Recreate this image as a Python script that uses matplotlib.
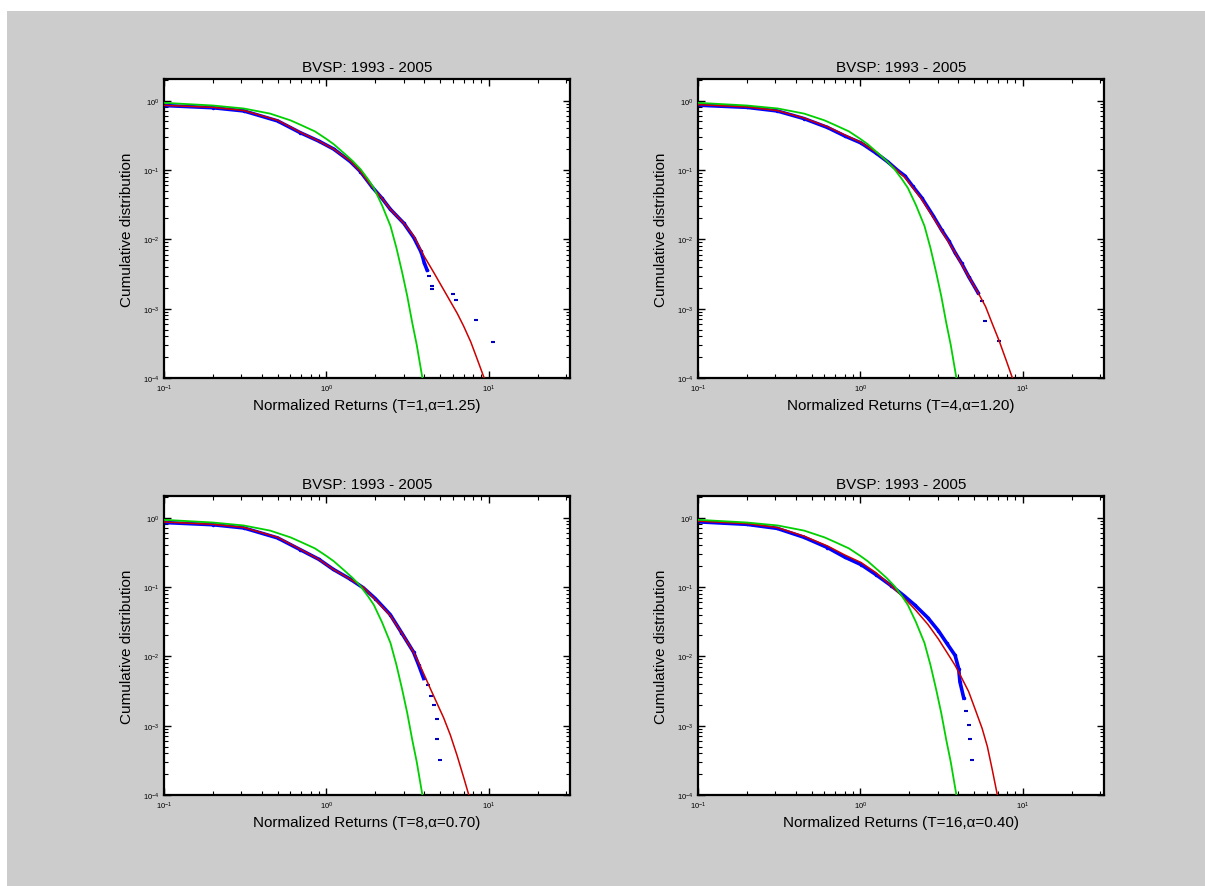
import numpy as np
import matplotlib
matplotlib.use("Agg")
from matplotlib import pyplot as plt
from matplotlib.patches import Rectangle

plt.rcParams['font.family'] = ['Liberation Sans', 'DejaVu Sans']
plt.rcParams['mathtext.default'] = 'regular'

# gaussian reference curve (same in every panel)
gauss_x = [0.1, 0.2, 0.31, 0.45, 0.6, 0.69, 0.85, 1.0, 1.11, 1.3, 1.45, 1.62, 1.8, 1.96,
           2.2, 2.48, 2.7, 2.93, 3.15, 3.38, 3.6, 3.9]
gauss_y = [0.93, 0.85, 0.77, 0.65, 0.52, 0.45, 0.36, 0.28, 0.235, 0.17, 0.135, 0.103, 0.074, 0.055,
           0.031, 0.0156, 0.0075, 0.0033, 0.0015, 6.2e-4, 3.0e-4, 1.0e-4]

# T = 1
red1_x = [0.1, 0.2, 0.31, 0.5, 0.69, 0.9, 1.11, 1.4, 1.62, 1.91, 2.2, 2.48, 3.0, 3.46, 3.98,
          4.59, 5.4, 6.4, 7.0, 7.75, 8.5, 9.36]
red1_y = [0.855, 0.80, 0.72, 0.52, 0.35, 0.26, 0.20, 0.135, 0.095, 0.057, 0.039, 0.027, 0.017,
          0.011, 0.0058, 0.0033, 0.0017, 8.5e-4, 5.6e-4, 3.3e-4, 1.85e-4, 1.0e-4]
blue1_x = [0.1, 0.2, 0.31, 0.5, 0.69, 0.9, 1.11, 1.4, 1.62, 1.91, 2.2, 2.48, 3.0, 3.46, 3.8,
           3.9, 4.0, 4.17]
blue1_y = [0.85, 0.79, 0.71, 0.51, 0.345, 0.26, 0.20, 0.133, 0.095, 0.057, 0.039, 0.027, 0.017,
           0.0105, 0.0068, 0.0058, 0.0046, 0.0036]
tail1_x = [4.3, 4.5, 4.5, 6.0, 6.3, 8.3, 10.6]
tail1_y = [0.0030, 0.0021, 0.0019, 0.0016, 0.00133, 6.8e-4, 3.3e-4]

# T = 4
red4_x = [0.1, 0.2, 0.307, 0.45, 0.627, 0.8, 1.01, 1.25, 1.48, 1.88, 2.38, 2.8, 3.17, 3.83,
          4.64, 5.3, 5.89, 6.5, 7.13, 7.9, 8.63]
red4_y = [0.875, 0.81, 0.72, 0.56, 0.42, 0.32, 0.25, 0.18, 0.129, 0.078, 0.038, 0.021, 0.0132,
          0.0064, 0.0029, 0.0017, 0.00108, 6.0e-4, 3.5e-4, 1.8e-4, 1.0e-4]
blue4_x = [0.1, 0.2, 0.307, 0.45, 0.627, 0.8, 1.01, 1.25, 1.48, 1.7, 1.88, 2.1, 2.38, 2.8,
           3.17, 3.5, 3.83, 4.2, 4.64, 5.3]
blue4_y = [0.86, 0.80, 0.71, 0.55, 0.41, 0.31, 0.245, 0.175, 0.13, 0.098, 0.082, 0.058, 0.040,
           0.022, 0.0135, 0.0095, 0.0064, 0.0045, 0.0029, 0.0017]
tail4_x = [5.6, 5.89, 7.13]
tail4_y = [0.0013, 6.6e-4, 3.4e-4]

# T = 8
red8_x = [0.1, 0.2, 0.31, 0.5, 0.69, 0.9, 1.10, 1.4, 1.69, 2.0, 2.47, 2.9, 3.44, 3.9, 4.37,
          5.27, 5.8, 6.38, 7.0, 7.53]
red8_y = [0.865, 0.80, 0.72, 0.52, 0.35, 0.25, 0.18, 0.13, 0.0986, 0.066, 0.039, 0.022, 0.0115,
          0.0062, 0.0034, 0.0013, 7.3e-4, 3.7e-4, 1.8e-4, 1.0e-4]
blue8_x = [0.1, 0.2, 0.31, 0.5, 0.69, 0.9, 1.1, 1.4, 1.69, 2.0, 2.47, 2.9, 3.44, 3.7, 3.97]
blue8_y = [0.85, 0.79, 0.71, 0.51, 0.345, 0.25, 0.18, 0.13, 0.097, 0.068, 0.040, 0.022, 0.0115,
           0.0075, 0.0048]
tail8_x = [4.2, 4.4, 4.58, 4.8, 4.8, 4.99]
tail8_y = [0.0038, 0.0027, 0.0020, 0.00126, 6.5e-4, 3.2e-4]

# T = 16
red16_x = [0.1, 0.2, 0.307, 0.45, 0.627, 0.8, 1.01, 1.25, 1.55, 1.85, 2.16, 2.6, 3.02, 3.4,
           3.83, 4.2, 4.64, 5.1, 5.62, 6.05, 6.49, 6.97]
red16_y = [0.89, 0.82, 0.72, 0.54, 0.39, 0.29, 0.225, 0.16, 0.104, 0.070, 0.048, 0.029, 0.0178,
           0.0115, 0.0074, 0.0049, 0.0031, 0.0017, 9.1e-4, 5.0e-4, 2.3e-4, 1.0e-4]
blue16_x = [0.1, 0.2, 0.307, 0.45, 0.627, 0.8, 1.01, 1.25, 1.55, 1.85, 2.16, 2.6, 3.02, 3.4,
            3.83, 4.03, 4.1, 4.33]
blue16_y = [0.87, 0.80, 0.70, 0.52, 0.37, 0.27, 0.21, 0.15, 0.104, 0.075, 0.055, 0.036, 0.0234,
            0.0155, 0.0103, 0.0066, 0.0043, 0.0025]
tail16_x = [4.45, 4.64, 4.75, 4.86]
tail16_y = [0.0016, 0.00102, 6.5e-4, 3.2e-4]

xlabels = ["Normalized Returns (T=1,\u03b1=1.25)", "Normalized Returns (T=4,\u03b1=1.20)",
           "Normalized Returns (T=8,\u03b1=0.70)", "Normalized Returns (T=16,\u03b1=0.40)"]
title = "BVSP: 1993 - 2005"

panels = [(blue1_x, blue1_y, tail1_x, tail1_y, red1_x, red1_y),
          (blue4_x, blue4_y, tail4_x, tail4_y, red4_x, red4_y),
          (blue8_x, blue8_y, tail8_x, tail8_y, red8_x, red8_y),
          (blue16_x, blue16_y, tail16_x, tail16_y, red16_x, red16_y)]

W, H = 1205, 887
fig = plt.figure(figsize=(W / 100, H / 100), dpi=100, facecolor='white')
# gray figure area (white border at top and left like the original screenshot)
fig.patches.append(Rectangle((7 / W, 0), 1 - 7 / W, 1 - 12 / H, transform=fig.transFigure,
                             facecolor='#cccccc', edgecolor='none', zorder=-10))

# axes boxes in pixels: left, top
boxes = [(164, 80), (698, 80), (164, 497), (698, 497)]
aw, ah = 406, 299

for i, (bx, by, tx, ty, rx, ry) in enumerate(panels):
    left, top = boxes[i]
    ax = fig.add_axes([left / W, 1 - (top + ah) / H, aw / W, ah / H])
    ax.set_xscale('log')
    ax.set_yscale('log')
    ax.plot(bx, by, color='blue', lw=2.6, marker='.', ms=3, zorder=2)
    ax.plot(tx, ty, ls='none', marker='_', color='#0000bb', ms=3.5, mew=1.5, zorder=2)
    ax.plot(rx, ry, color='#cc0000', lw=1.1, zorder=3)
    ax.plot(gauss_x, gauss_y, color='#00d000', lw=1.3, zorder=4)
    ax.set_xlim(0.1, 10 ** 1.5)
    ax.set_ylim(1e-4, 2.05)
    ax.set_xticks([0.1, 1, 10])
    ax.set_yticks([1e-4, 1e-3, 1e-2, 1e-1, 1])
    ax.tick_params(which='both', direction='in', top=True, right=True, labelsize=5.5)
    ax.tick_params(which='major', length=5, width=1)
    ax.tick_params(which='minor', length=3, width=0.8)
    for s in ax.spines.values():
        s.set_linewidth(1.6)
    ax.set_title(title, fontsize=11, pad=6)
    ax.set_xlabel(xlabels[i], fontsize=11, labelpad=3)
    ax.set_ylabel("Cumulative distribution", fontsize=11, labelpad=6)

fig.savefig("out.png", dpi=100, facecolor=fig.get_facecolor())
